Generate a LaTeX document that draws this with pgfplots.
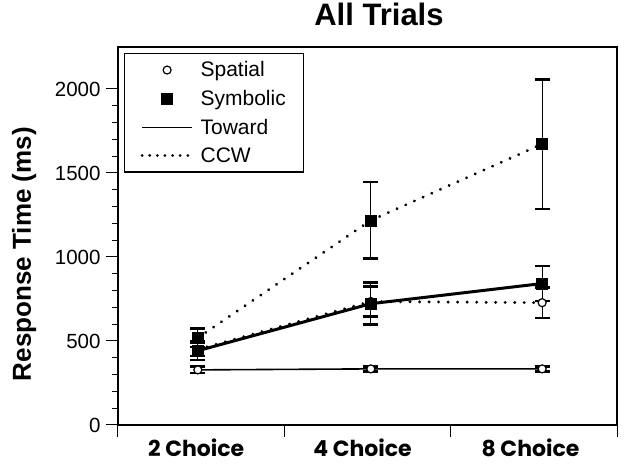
\documentclass[border=0pt]{standalone}
\usepackage{fontspec}
\setmainfont{Liberation Sans}
\newfontfamily\popp{Poppins}
\usepackage{pgfplots}
\pgfplotsset{compat=1.18}
\pgfplotsset{
  markleg/.style={legend image code/.code={\draw[##1] plot coordinates {(25pt,0pt)};}},
  lineleg/.style={legend image code/.code={\draw[##1] (0pt,0pt) -- (50pt,0pt);}},
}
\pgfplotstableread{
x y e
0.48 328 20
1.52 334 15
2.55 334 15
}\spatToward
\pgfplotstableread{
x y e
0.48 450 40
1.52 735 90
2.55 728 90
}\spatCCW
\pgfplotstableread{
x y e
0.48 442 55
1.52 722 125
2.55 842 105
}\symToward
\pgfplotstableread{
x y e
0.48 519 56
1.52 1218 228
2.55 1672 385
}\symCCW
\begin{document}
\begin{tikzpicture}
\begin{axis}[
  scale only axis, width=499pt, height=378pt,
  xmin=0, xmax=3, ymin=0, ymax=2250,
  axis line style={line width=1.3pt},
  tick pos=left, tick align=outside,
  major tick length=12pt, minor tick length=6pt,
  every tick/.style={black, line width=1pt},
  xtick={0,1,2,3}, xticklabels={},
  extra x ticks={0.47,1.47,2.48},
  extra x tick labels={2 Choice,4 Choice,8 Choice},
  extra x tick style={major tick length=0pt,
    tick label style={anchor=base, yshift=-32pt, font=\popp\bfseries\fontsize{22}{22}\selectfont}},
  ytick={0,500,1000,1500,2000}, minor y tick num=4,
  yticklabel style={font=\fontsize{20.5}{20.5}\selectfont, xshift=-2pt},
  /pgf/number format/assume math mode=true,
  /pgf/number format/1000 sep={},
  ylabel={Response Time (ms)},
  ylabel style={at={(axis description cs:-0.188,0.452)}, anchor=center, font=\bfseries\fontsize{26}{26}\selectfont},
  title={All Trials},
  title style={at={(axis description cs:0.523,1.04)}, anchor=base, font=\bfseries\fontsize{31}{31}\selectfont},
  legend style={at={(rel axis cs:0.012,0.984)}, anchor=north west, draw=black, line width=1.3pt,
    font=\fontsize{21}{21}\selectfont, row sep=8pt, column sep=5pt, inner xsep=16pt, inner ysep=6pt},
  legend cell align=left,
  error bars/y dir=both, error bars/y explicit,
  error bars/error bar style={line width=1.1pt, solid},
  error bars/error mark options={rotate=90, mark size=7.5pt, line width=2.5pt, solid},
]
\addplot[black, line width=1.6pt, mark=*, mark size=4pt, mark options={fill=white, line width=1.2pt, solid}, forget plot]
  table[x=x, y=y, y error=e]{\spatToward};
\addplot[black, line width=3.2pt, line cap=round, dash pattern=on 0.01pt off 9.5pt, mark=*, mark size=4pt, mark options={fill=white, line width=1.2pt, solid}, forget plot]
  table[x=x, y=y, y error=e]{\spatCCW};
\addplot[black, line width=3pt, mark=square*, mark size=5.5pt, mark options={solid, line width=0.5pt}, forget plot]
  table[x=x, y=y, y error=e]{\symToward};
\addplot[black, line width=3.2pt, line cap=round, dash pattern=on 0.01pt off 9.5pt, mark=square*, mark size=5.5pt, mark options={solid, line width=0.5pt}, forget plot]
  table[x=x, y=y, y error=e]{\symCCW};
\addlegendimage{black, only marks, mark=*, mark size=4pt, mark options={fill=white, line width=1.2pt}, markleg}
\addlegendentry{Spatial}
\addlegendimage{black, only marks, mark=square*, mark size=5.5pt, markleg}
\addlegendentry{Symbolic}
\addlegendimage{black, line width=1.8pt, lineleg}
\addlegendentry{Toward}
\addlegendimage{black, line width=3pt, line cap=round, dash pattern=on 0.01pt off 7.6pt, lineleg}
\addlegendentry{CCW}
\end{axis}
\pgfresetboundingbox
\path ([shift={(-118pt,-39pt)}]current axis.south west) rectangle ([shift={(12pt,47pt)}]current axis.north east);
\end{tikzpicture}
\end{document}
